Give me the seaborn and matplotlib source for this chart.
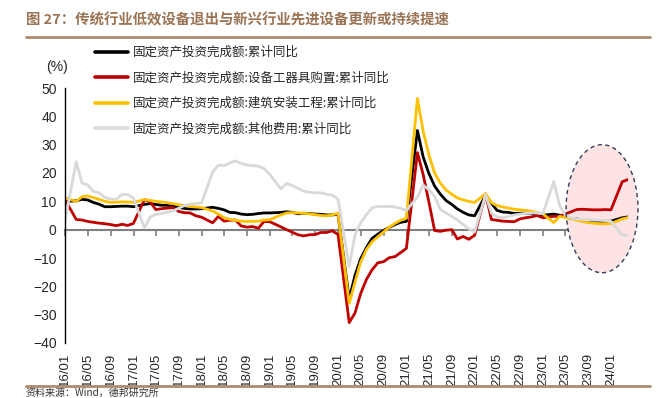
import numpy as np
import pandas as pd
import matplotlib
matplotlib.use("Agg")
import matplotlib.pyplot as plt
import matplotlib.dates as mdates
from matplotlib.lines import Line2D
from matplotlib.patches import Ellipse
import seaborn as sns

# ---------------- data (cumulative YoY, %) ----------------
# points: Dec-2015, then Feb..Dec of 2016-2023, then Feb, Mar 2024
total = [10.0,
         10.2, 10.7, 10.5, 9.6, 9.0, 8.1, 8.1, 8.2, 8.3, 8.3, 8.1,
         8.9, 9.2, 8.9, 8.6, 8.6, 8.3, 7.8, 7.5, 7.3, 7.3, 7.4,
         7.9, 7.5, 7.0, 6.1, 6.0, 5.5, 5.3, 5.4, 5.7, 5.9, 5.9,
         6.1, 6.3, 6.1, 5.6, 5.8, 5.7, 5.5, 5.4, 5.2, 5.2, 5.4,
         -24.5, -16.1, -10.3, -6.3, -3.1, -1.6, -0.3, 0.8, 1.8, 2.6, 2.9,
         35.0, 25.6, 19.9, 15.4, 12.6, 10.3, 8.9, 7.3, 6.1, 5.2, 4.9,
         12.2, 9.3, 6.8, 6.2, 6.1, 5.7, 5.8, 5.9, 5.8, 5.3, 5.1,
         5.5, 5.1, 4.7, 4.0, 3.8, 3.4, 3.2, 3.1, 2.9, 2.9, 3.0,
         4.2, 4.5]
equipment = [10.6,
             3.6, 3.4, 2.9, 2.6, 2.3, 2.1, 1.8, 1.4, 1.9, 1.5, 2.2,
             10.6, 9.8, 7.1, 7.4, 7.6, 7.8, 6.4, 6.0, 5.9, 4.9, 4.4,
             2.4, 4.7, 3.0, 3.3, 3.4, 1.3, 0.9, 1.1, 0.5, 2.9, 2.8,
             1.0, 0.0, -0.9, -1.8, -2.2, -1.8, -1.7, -1.0, -1.0, -0.4, -1.7,
             -32.8, -29.4, -22.6, -17.6, -14.2, -11.7, -11.3, -9.9, -9.5, -8.1, -6.6,
             27.2, 19.4, 9.9, -0.3, -0.6, -0.2, 0.0, -3.3, -2.4, -3.4, -2.0,
             12.6, 3.6, 3.3, 3.0, 2.9, 2.8, 3.8, 4.2, 4.5, 5.0, 4.2,
             4.7, 4.7, 5.5, 6.3, 7.1, 7.2, 7.1, 7.0, 7.0, 7.1, 7.0,
             16.9, 17.7]
construction = [11.2,
                10.0, 11.6, 11.9, 11.3, 10.7, 10.0, 9.6, 9.7, 9.8, 9.8, 9.6,
                10.6, 10.3, 10.0, 9.8, 9.5, 9.2, 8.8, 8.5, 8.2, 8.0, 7.8,
                6.6, 5.5, 4.2, 3.6, 3.3, 3.0, 2.9, 2.9, 3.0, 3.4, 3.5,
                5.2, 5.9, 6.0, 5.9, 5.8, 5.6, 5.3, 5.0, 4.9, 5.2, 5.8,
                -26.0, -18.5, -11.5, -7.0, -4.3, -2.5, -0.8, 0.9, 2.2, 3.3, 4.0,
                46.3, 34.7, 26.5, 20.0, 16.5, 14.0, 12.5, 11.2, 10.5, 10.0, 9.6,
                12.7, 9.5, 8.5, 8.0, 7.6, 7.2, 7.0, 6.8, 6.5, 6.0, 5.6,
                2.5, 4.7, 4.3, 4.0, 3.4, 2.9, 2.5, 2.3, 2.1, 2.1, 2.2,
                3.8, 4.3]
other = [3.2,
         24.0, 16.5, 15.8, 13.5, 13.0, 11.4, 10.8, 10.7, 12.4, 12.4, 11.2,
         0.6, 4.5, 5.4, 5.7, 6.2, 6.6, 7.6, 8.5, 9.0, 9.2, 9.4,
         20.3, 22.8, 22.6, 23.5, 24.3, 23.4, 22.8, 22.6, 22.4, 21.6, 19.5,
         14.4, 16.3, 15.6, 14.6, 13.6, 13.2, 13.0, 13.0, 12.5, 12.2, 10.8,
         -13.0, -1.8, 2.4, 5.3, 7.7, 8.2, 8.2, 8.2, 8.0, 7.5, 6.8,
         11.5, 15.7, 14.1, 11.8, 7.2, 5.9, 4.7, 3.4, 1.8, 0.3, -0.8,
         12.4, 5.8, 4.5, 4.2, 4.6, 5.2, 5.5, 5.8, 5.9, 5.9, 5.6,
         17.0, 8.5, 5.2, 4.2, 3.8, 3.6, 3.5, 3.4, 3.3, 3.2, 2.9,
         -2.0, -2.0]

series_names = ["固定资产投资完成额:累计同比",
                "固定资产投资完成额:设备工器具购置:累计同比",
                "固定资产投资完成额:建筑安装工程:累计同比",
                "固定资产投资完成额:其他费用:累计同比"]
colors = ["#000000", "#C00000", "#FFC000", "#D9D9D9"]

title = "图 27：传统行业低效设备退出与新兴行业先进设备更新或持续提速"
source = "资料来源：Wind，德邦研究所"

months = [(2015, 12)] + [(y, m) for y in range(2016, 2024) for m in range(2, 13)] + [(2024, 2), (2024, 3)]
dates = [pd.Timestamp(year=y, month=m, day=1) + pd.offsets.MonthEnd(0) for y, m in months]

frames = []
for name, vals in zip(series_names, [total, equipment, construction, other]):
    frames.append(pd.DataFrame({"date": dates, "value": vals, "series": name}))
df = pd.concat(frames, ignore_index=True)

# ---------------- figure ----------------
sns.set_style("white")
plt.rcParams["font.family"] = ["Liberation Sans", "Noto Sans CJK SC", "DejaVu Sans"]
cjk = ["Noto Sans CJK SC", "DejaVu Sans"]

W, H = 667, 398
fig = plt.figure(figsize=(W / 100, H / 100), dpi=100)
ax = fig.add_axes([65 / W, 1 - 343 / H, (628 - 65) / W, (343 - 88) / H])

sns.lineplot(data=df, x="date", y="value", hue="series", hue_order=series_names,
             palette=colors, linewidth=2.0, legend=False, ax=ax)

ax.set_ylim(-40, 50)
ax.set_yticks(np.arange(-40, 51, 10))
ax.set_xlim(pd.Timestamp("2015-12-31"), pd.Timestamp("2024-03-31"))
ax.set_xlabel("")
ax.set_ylabel("")

loc = mdates.MonthLocator(bymonth=[1, 5, 9])
ax.xaxis.set_major_locator(loc)
ax.xaxis.set_major_formatter(mdates.DateFormatter("%y/%m"))
ax.tick_params(axis="x", length=0, pad=7, labelsize=9.5, labelrotation=90)
ax.tick_params(axis="y", length=4, width=1, direction="out", labelsize=10, pad=2, color="black")
for s in ["top", "right", "bottom"]:
    ax.spines[s].set_visible(False)
ax.spines["left"].set_color("black")
ax.spines["left"].set_linewidth(1.0)

# zero-line axis with ticks
sec = ax.secondary_xaxis(40 / 90)
sec.xaxis.set_major_locator(mdates.MonthLocator(bymonth=[1, 5, 9]))
sec.tick_params(axis="x", length=4, width=1.2, direction="out", color="#7F7F7F", labelbottom=False)
sec.spines["bottom"].set_color("#7F7F7F")
sec.spines["bottom"].set_linewidth(1.5)

# highlight ellipse
cx = mdates.date2num(pd.Timestamp("2023-11-13"))
ell_fill = Ellipse((cx, 7.4), width=385, height=45.2, facecolor="#FDE3E3",
                   edgecolor="none", zorder=0.5, clip_on=False)
ax.add_patch(ell_fill)
ell_edge = Ellipse((cx, 7.4), width=385, height=45.2, facecolor="none",
                   edgecolor="#2F3D5A", linestyle=(0, (3, 2.5)), linewidth=1.0,
                   zorder=5, clip_on=False)
ax.add_patch(ell_edge)

# legend
handles = [Line2D([0], [0], color=c, lw=2.6) for c in colors]
ax.legend(handles, series_names, loc="upper left",
          bbox_to_anchor=(95 / W, 1 - 46 / H), bbox_transform=fig.transFigure,
          frameon=False, prop={"family": cjk, "size": 9},
          handlelength=2.6, handletextpad=0.4, labelspacing=1.0,
          borderpad=0, borderaxespad=0)

fig.text(57 / W, 1 - 67 / H, "(%)", ha="center", va="center", fontsize=10)

# title and rules
fig.text(26 / W, 1 - 20 / H, title, ha="left", va="center", fontsize=10.4,
         fontweight="bold", color="#9A7455", family=cjk)
fig.add_artist(Line2D([26 / W, 650 / W], [1 - 37 / H, 1 - 37 / H],
                      color="#B08A6A", lw=2.0))
fig.add_artist(Line2D([26 / W, 650 / W], [1 - 386 / H, 1 - 386 / H],
                      color="#B08A6A", lw=2.0))
fig.text(26 / W, 1 - 397.5 / H, source, ha="left", va="bottom", fontsize=7.2,
         color="#333333", family=cjk)

fig.savefig("out.png", dpi=100)
